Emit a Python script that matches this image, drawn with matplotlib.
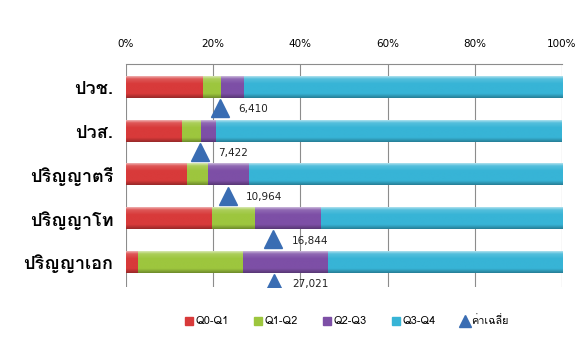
import matplotlib
matplotlib.use('Agg')
import numpy as np
import matplotlib.pyplot as plt
from matplotlib import font_manager
from matplotlib.ft2font import FT2Font
from matplotlib.lines import Line2D
from matplotlib.colors import to_rgb

categories = ['ปวช.', 'ปวส.', 'ปริญญาตรี', 'ปริญญาโท', 'ปริญญาเอก']
q0_q1 = [17.7, 12.9, 14.0, 19.7, 2.7]
q1_q2 = [4.2, 4.4, 4.8, 10.0, 24.1]
q2_q3 = [5.1, 3.4, 9.4, 15.0, 19.5]
q3_q4 = [73.0, 79.3, 71.8, 55.3, 53.7]
mean_pos = [21.5, 16.9, 23.4, 33.8, 34.0]
mean_labels = ['6,410', '7,422', '10,964', '16,844', '27,021']
series_names = ['Q0-Q1', 'Q1-Q2', 'Q2-Q3', 'Q3-Q4']
mean_name = 'ค่าเฉลี่ย'
xticks = [0, 20, 40, 60, 80, 100]
xticklabels = ['0%', '20%', '40%', '60%', '80%', '100%']


def find_thai_font():
    seen = set()
    for f in font_manager.fontManager.ttflist:
        if f.fname in seen:
            continue
        seen.add(f.fname)
        try:
            cm = FT2Font(f.fname).get_charmap()
            if all(c in cm for c in (0x0E1B, 0x0E0D, 0x0E40, 0x0E48)):
                return f.name
        except Exception:
            pass
    return None


thai = find_thai_font()
families = ([thai] if thai else []) + ['DejaVu Sans']
plt.rcParams['font.family'] = families

colors = ['#D83A3A', '#9DC63E', '#7D4FA6', '#37B4D6']
tri_color = '#3A6DB3'


def gradient(col, n=64):
    base = np.array(to_rgb(col))
    t = np.linspace(0, 1, n)
    rows = []
    for v in t:
        if v < 0.12:
            c = base + (1 - base) * 0.45 * (1 - v / 0.12) + (1 - base) * 0.15
        elif v < 0.35:
            c = base + (1 - base) * 0.15 * (1 - (v - 0.12) / 0.23)
        elif v < 0.8:
            c = base
        else:
            c = base * (1 - 0.3 * (v - 0.8) / 0.2)
        rows.append(np.clip(c, 0, 1))
    return np.array(rows)[:, None, :]


fig = plt.figure(figsize=(5.86, 3.62), dpi=100)
ax = fig.add_axes([126 / 586, 1 - 287 / 362, 436 / 586, 223 / 362])

y = list(range(len(categories)))
bh = 0.5
left = [0.0] * len(categories)
for vals, col, name in zip([q0_q1, q1_q2, q2_q3, q3_q4], colors, series_names):
    ax.barh(y, vals, left=left, height=bh, color=col, edgecolor='none', label=name, zorder=3)
    g = gradient(col)
    for yi, l, v in zip(y, left, vals):
        ax.imshow(g, extent=(l, l + v, yi + bh / 2, yi - bh / 2), origin='upper',
                  aspect='auto', interpolation='bilinear', zorder=3.5)
    left = [l + v for l, v in zip(left, vals)]

ty = [v + 0.48 for v in y]
ax.plot(mean_pos, ty, linestyle='none', marker='^', markersize=13.5, color=tri_color, zorder=4)
for xp, yp, lab in zip(mean_pos, ty, mean_labels):
    ax.annotate(lab, (xp, yp), xytext=(13, -1), textcoords='offset points',
                va='center', ha='left', fontsize=7.5, color='#222222',
                family=['DejaVu Sans'])

ax.set_xlim(0, 100)
ax.set_ylim(4.57, -0.526)
ax.set_xticks(xticks)
ax.set_xticklabels(xticklabels, fontsize=7.5, family=['DejaVu Sans'])
ax.xaxis.tick_top()
ax.tick_params(axis='x', length=0, pad=11)
ax.set_yticks(y)
ax.set_yticklabels(categories, fontsize=13, fontweight='bold')
ax.tick_params(axis='y', length=0, pad=9)
ax.grid(axis='x', color='#8c8c8c', linewidth=0.8, zorder=0)
for s in ['left', 'right', 'bottom']:
    ax.spines[s].set_visible(False)
ax.spines['top'].set_color('#8c8c8c')
ax.spines['top'].set_linewidth(0.8)

handles = [Line2D([], [], linestyle='none', marker='s', markersize=6, color=c) for c in colors]
handles.append(Line2D([], [], linestyle='none', marker='^', markersize=9, color=tri_color))
labels = series_names + [mean_name]
fig.legend(handles, labels, loc='center', bbox_to_anchor=(346 / 586, 1 - 321 / 362), ncol=5,
           frameon=False, fontsize=7.8, handletextpad=0.1, columnspacing=2.2, handlelength=1.0)

fig.savefig('out.png', dpi=100)
